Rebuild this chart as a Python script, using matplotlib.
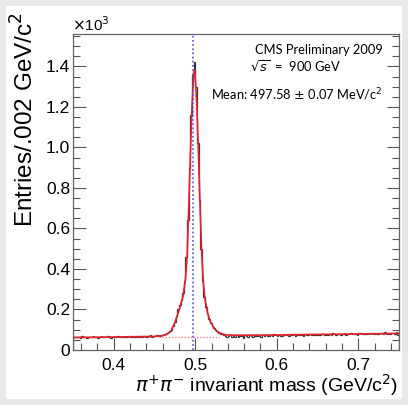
import numpy as np
import matplotlib
matplotlib.use("Agg")
import matplotlib.pyplot as plt
from matplotlib.patches import Rectangle
from matplotlib.ticker import MultipleLocator

# histogram: 200 bins of 2 MeV from 0.35 to 0.75 GeV, entries in units of 10^3
bin_lo = 0.35
bin_width = 0.002

left_bg = [
    0.065, 0.062, 0.066, 0.064, 0.061, 0.067, 0.063, 0.065, 0.060, 0.064,
    0.066, 0.062, 0.068, 0.063, 0.065, 0.061, 0.064, 0.067, 0.062, 0.066,
    0.063, 0.069, 0.064, 0.061, 0.066, 0.065, 0.062, 0.068, 0.064, 0.066,
    0.063, 0.070, 0.065, 0.062, 0.067, 0.064, 0.069, 0.063, 0.066, 0.071,
    0.064, 0.067, 0.065, 0.070, 0.066, 0.063, 0.068, 0.072, 0.066, 0.069,
    0.067, 0.073, 0.070, 0.068, 0.074, 0.076,
]
peak = [
    0.079, 0.082, 0.088, 0.094, 0.100, 0.118, 0.140, 0.170, 0.200, 0.220,
    0.245, 0.280, 0.340, 0.460, 0.640, 0.900, 1.160, 1.360, 1.420, 1.300,
    1.020, 0.740, 0.500, 0.340, 0.260, 0.210, 0.180, 0.155, 0.135, 0.120,
    0.110, 0.100, 0.092, 0.086, 0.081, 0.077, 0.074,
]
right_bg = [
    0.071, 0.064, 0.068, 0.072, 0.062, 0.069, 0.066,
    0.073, 0.064, 0.070, 0.067, 0.061, 0.072, 0.068, 0.065, 0.074, 0.069,
    0.066, 0.071, 0.075, 0.067, 0.070, 0.064, 0.073, 0.069, 0.076, 0.071,
    0.068, 0.074, 0.070, 0.077, 0.072, 0.069, 0.075, 0.071, 0.067, 0.074,
    0.078, 0.072, 0.070, 0.076, 0.073, 0.079, 0.071, 0.075, 0.072, 0.077,
    0.074, 0.070, 0.078, 0.075, 0.072, 0.080, 0.074, 0.077, 0.073, 0.079,
    0.076, 0.072, 0.078, 0.081, 0.075, 0.077, 0.074, 0.080, 0.076, 0.083,
    0.078, 0.075, 0.081, 0.077, 0.074, 0.079, 0.083, 0.076, 0.080, 0.078,
    0.084, 0.077, 0.081, 0.079, 0.075, 0.082, 0.085, 0.079, 0.077, 0.083,
    0.080, 0.086, 0.078, 0.082, 0.079, 0.084, 0.081, 0.077, 0.085, 0.082,
    0.079, 0.087, 0.081, 0.084, 0.078, 0.083, 0.086, 0.080, 0.088, 0.076,
]
counts = left_bg + peak + right_bg

# fit curve
fit_x = [0.35, 0.40, 0.45, 0.46, 0.465, 0.47, 0.475, 0.48, 0.485, 0.488,
         0.490, 0.492, 0.494, 0.496, 0.498, 0.499, 0.500, 0.502, 0.504,
         0.506, 0.508, 0.510, 0.512, 0.515, 0.518, 0.522, 0.526, 0.530,
         0.535, 0.54, 0.55, 0.60, 0.65, 0.70, 0.75]
fit_y = [0.062, 0.064, 0.067, 0.071, 0.077, 0.092, 0.135, 0.195, 0.265, 0.350,
         0.460, 0.700, 0.960, 1.200, 1.360, 1.380, 1.350, 1.200, 0.960,
         0.700, 0.470, 0.330, 0.250, 0.185, 0.145, 0.115, 0.095, 0.084,
         0.077, 0.074, 0.073, 0.074, 0.077, 0.079, 0.082]

# background under the peak (dotted)
bkg_x = [0.456, 0.529]
bkg_y = [0.066, 0.066]

k0_mass = 0.4976

fig = plt.figure(figsize=(4.08, 4.05), dpi=100, facecolor="#e8e8e8")
fig.patches.append(Rectangle((6 / 408, 6 / 405), 396 / 408, 393 / 405,
                             transform=fig.transFigure, facecolor="white",
                             edgecolor="none", zorder=-10))

ax = fig.add_axes([73 / 408, 55 / 405, 326 / 408, 316 / 405])
ax.set_facecolor("white")

edges = bin_lo + bin_width * np.arange(len(counts) + 1)
ax.stairs(counts, edges, color="#3a3a3a", linewidth=0.9)
ax.plot(fit_x, fit_y, color="#e8202a", linewidth=1.2)
ax.plot(bkg_x, bkg_y, color="#f07070", linewidth=0.9, linestyle=(0, (1, 1.5)))
ax.axvline(k0_mass, color="#5a4fe0", linewidth=1.2, linestyle=(0, (1, 1.5)))

ax.set_xlim(0.35, 0.75)
ax.set_ylim(0, 1.56)
ax.xaxis.set_major_locator(MultipleLocator(0.1))
ax.xaxis.set_minor_locator(MultipleLocator(0.02))
ax.yaxis.set_major_locator(MultipleLocator(0.2))
ax.yaxis.set_minor_locator(MultipleLocator(0.05))
ax.xaxis.set_major_formatter(lambda v, p: f"{v:.1f}")
ax.yaxis.set_major_formatter(lambda v, p: "0" if v == 0 else f"{v:.1f}")

ax.tick_params(which="both", direction="in", left=True, right=True,
               bottom=True, top=False, color="#555555", width=0.8)
ax.tick_params(which="major", length=9)
ax.tick_params(which="minor", length=5)
ax.tick_params(axis="x", labelsize=12.5, pad=6)
ax.tick_params(axis="y", labelsize=12.5, pad=2)
for lab in ax.get_xticklabels() + ax.get_yticklabels():
    lab.set_family("Liberation Sans")
for s in ax.spines.values():
    s.set_color("#666666")
    s.set_linewidth(0.9)

fig.text(72 / 408, 1 - 31 / 405, r"$\times$10$^3$", fontsize=11,
         family="Liberation Sans", ha="left", va="baseline")

fig.text(25 / 408, 1 - 12 / 405, "Entries/.002 GeV/c$^2$", rotation=90,
         fontsize=17.5, family="Liberation Sans", ha="center", va="top")
fig.text(398 / 408, 1 - 385 / 405,
         r"$\pi^{+}\pi^{-}$ invariant mass (GeV/c$^2$)", fontsize=14,
         family="Liberation Sans", ha="right", va="center")

fig.text(319 / 408, 1 - 50 / 405, "CMS Preliminary 2009", fontsize=9.3,
         family="Lato", ha="center", va="center")
fig.text(250 / 408, 1 - 66 / 405, r"$\sqrt{s}$  =  900 GeV", fontsize=9.3,
         family="Lato", ha="left", va="center")
fig.text(383 / 408, 1 - 95 / 405, r"Mean: 497.58 $\pm$ 0.07 MeV/c$^2$",
         fontsize=9.3, family="Lato", ha="right", va="center")

fig.savefig("out.png", dpi=100, facecolor=fig.get_facecolor())
